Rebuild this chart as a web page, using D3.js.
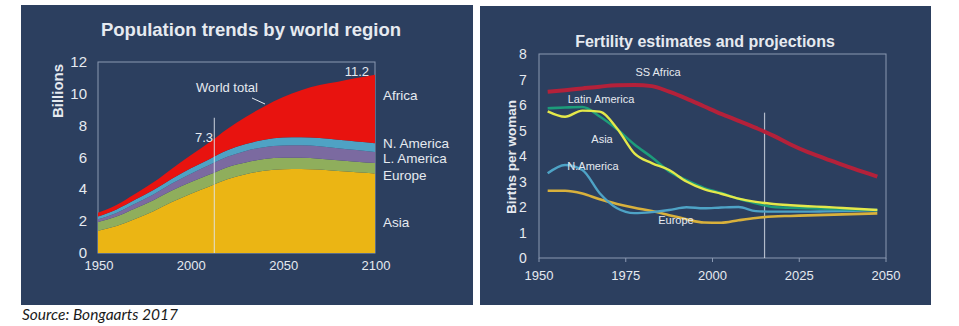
<!DOCTYPE html>
<html>
<head>
<meta charset="utf-8">
<script src="https://cdn.jsdelivr.net/npm/d3@7"></script>
<style>
  body { margin: 0; background: #fff; }
  svg text { font-family: "Liberation Sans", Arial, sans-serif; }
</style>
</head>
<body>
<div id="chart"></div>
<script>
// population by region, billions
const popYears = [1950, 1960, 1970, 1980, 1990, 2000, 2010, 2020, 2030, 2040, 2050, 2060, 2070, 2080, 2090, 2100];
const asia = [1.40, 1.70, 2.14, 2.63, 3.20, 3.71, 4.17, 4.64, 4.95, 5.17, 5.26, 5.28, 5.24, 5.15, 5.08, 5.00];
const europe = [0.55, 0.60, 0.66, 0.69, 0.72, 0.73, 0.74, 0.75, 0.74, 0.73, 0.72, 0.70, 0.68, 0.67, 0.66, 0.65];
const latinAmerica = [0.17, 0.22, 0.29, 0.36, 0.45, 0.53, 0.60, 0.65, 0.72, 0.75, 0.78, 0.79, 0.78, 0.76, 0.73, 0.70];
const northAmerica = [0.18, 0.22, 0.25, 0.28, 0.30, 0.34, 0.37, 0.41, 0.44, 0.46, 0.49, 0.51, 0.52, 0.53, 0.54, 0.55];
const africa = [0.23, 0.28, 0.37, 0.48, 0.63, 0.81, 1.04, 1.34, 1.70, 2.10, 2.53, 2.95, 3.33, 3.65, 3.98, 4.30];
const regionNames = ["Asia", "Europe", "L. America", "N. America", "Africa"];
const regionColors = ["#ebb514", "#8fae5c", "#7b6aa0", "#4fa2c4", "#e8130f"];
const popTicks = [0, 2, 4, 6, 8, 10, 12];
const popYearTicks = [1950, 2000, 2050, 2100];

// total fertility rate, births per woman
const tfrYears = [1952.5, 1957.5, 1962.5, 1967.5, 1972.5, 1977.5, 1982.5, 1987.5, 1992.5, 1997.5,
                  2002.5, 2007.5, 2012.5, 2017.5, 2022.5, 2027.5, 2032.5, 2037.5, 2042.5, 2047.5];
const tfrSSAfrica = [6.52, 6.58, 6.65, 6.72, 6.77, 6.78, 6.74, 6.52, 6.25, 5.95, 5.65, 5.38, 5.10, 4.80, 4.45, 4.15, 3.90, 3.65, 3.42, 3.19];
const tfrLatAm = [5.87, 5.90, 5.92, 5.55, 5.05, 4.45, 3.95, 3.40, 3.05, 2.75, 2.55, 2.32, 2.15, 2.00, 1.97, 1.95, 1.93, 1.91, 1.89, 1.87];
const tfrAsia = [5.75, 5.54, 5.78, 5.74, 5.08, 4.10, 3.72, 3.45, 3.00, 2.70, 2.52, 2.33, 2.20, 2.12, 2.07, 2.03, 2.00, 1.96, 1.92, 1.88];
const tfrNAm = [3.32, 3.65, 3.45, 2.54, 1.95, 1.76, 1.80, 1.88, 1.99, 1.95, 1.98, 2.00, 1.84, 1.82, 1.82, 1.82, 1.83, 1.84, 1.86, 1.88];
const tfrEurope = [2.64, 2.64, 2.53, 2.30, 2.12, 1.97, 1.84, 1.68, 1.52, 1.39, 1.38, 1.48, 1.57, 1.63, 1.65, 1.67, 1.69, 1.71, 1.73, 1.75];
const tfrTicks = [0, 1, 2, 3, 4, 5, 6, 7, 8];
const tfrYearTicks = [1950, 1975, 2000, 2025, 2050];

const BG = "#2c3f5f";
const INK = "#e6eaf0";
const FRAME = "#8a99b2";

const svg = d3.select("#chart").append("svg")
    .attr("width", 959)
    .attr("height", 326);

// ---------- left panel: stacked population ----------
svg.append("rect").attr("x", 21).attr("y", 5).attr("width", 452).attr("height", 300).attr("fill", BG);

const px = d3.scaleLinear().domain([1950, 2100]).range([98, 375]);
const py = d3.scaleLinear().domain([0, 12]).range([253, 62]);

svg.append("text")
    .attr("x", 251).attr("y", 36)
    .attr("text-anchor", "middle")
    .attr("font-size", 18.5).attr("font-weight", "bold")
    .attr("fill", INK)
    .text("Population trends by world region");

svg.append("rect")
    .attr("x", px(1950)).attr("y", py(12))
    .attr("width", px(2100) - px(1950)).attr("height", py(0) - py(12))
    .attr("fill", "none").attr("stroke", FRAME).attr("stroke-width", 1);

const popRows = popYears.map((yr, i) => ({
    year: yr,
    "Asia": asia[i],
    "Europe": europe[i],
    "L. America": latinAmerica[i],
    "N. America": northAmerica[i],
    "Africa": africa[i]
}));
const stacked = d3.stack().keys(regionNames)(popRows);

const area = d3.area()
    .x(d => px(d.data.year))
    .y0(d => py(d[0]))
    .y1(d => py(d[1]))
    .curve(d3.curveMonotoneX);

svg.append("g").selectAll("path")
    .data(stacked)
    .join("path")
        .attr("d", area)
        .attr("fill", (d, i) => regionColors[i]);

// y axis labels
svg.append("g").selectAll("text")
    .data(popTicks)
    .join("text")
        .attr("x", 87).attr("y", d => py(d) + 5)
        .attr("text-anchor", "end")
        .attr("font-size", 15)
        .attr("fill", INK)
        .text(d => d);

svg.append("text")
    .attr("transform", "translate(63,91) rotate(-90)")
    .attr("text-anchor", "middle")
    .attr("font-size", 15).attr("font-weight", "bold")
    .attr("fill", INK)
    .text("Billions");

svg.append("g").selectAll("text")
    .data(popYearTicks)
    .join("text")
        .attr("x", d => px(d) + 1).attr("y", 270)
        .attr("text-anchor", "middle")
        .attr("font-size", 13)
        .attr("fill", INK)
        .text(d => d);

// 2015 marker
svg.append("line")
    .attr("x1", px(2013)).attr("x2", px(2013))
    .attr("y1", py(8.5)).attr("y2", py(0))
    .attr("stroke", "#dfe5ee").attr("stroke-opacity", 0.75).attr("stroke-width", 1.2);

svg.append("text")
    .attr("x", 204).attr("y", 142)
    .attr("text-anchor", "middle").attr("font-size", 13).attr("fill", INK)
    .text("7.3");

svg.append("text")
    .attr("x", 369).attr("y", 76)
    .attr("text-anchor", "end").attr("font-size", 13).attr("fill", INK)
    .text("11.2");

svg.append("text")
    .attr("x", 227).attr("y", 92)
    .attr("text-anchor", "middle").attr("font-size", 13).attr("fill", INK)
    .text("World total");

svg.append("line")
    .attr("x1", 252).attr("y1", 98).attr("x2", 265).attr("y2", 104)
    .attr("stroke", INK).attr("stroke-width", 1);

// region names to the right of the stack
const regionLabelY = { "Africa": 100, "N. America": 148, "L. America": 163, "Europe": 180, "Asia": 227 };
svg.append("g").selectAll("text")
    .data(Object.keys(regionLabelY))
    .join("text")
        .attr("x", 383).attr("y", d => regionLabelY[d])
        .attr("font-size", 13.5)
        .attr("fill", INK)
        .text(d => d);

// ---------- right panel: fertility ----------
svg.append("rect").attr("x", 480).attr("y", 6).attr("width", 451).attr("height", 299).attr("fill", BG);

const fx = d3.scaleLinear().domain([1950, 2050]).range([539, 886]);
const fy = d3.scaleLinear().domain([0, 8]).range([258, 54]);

svg.append("text")
    .attr("x", 705).attr("y", 47)
    .attr("text-anchor", "middle")
    .attr("font-size", 16).attr("font-weight", "bold")
    .attr("fill", INK)
    .text("Fertility estimates and projections");

svg.append("rect")
    .attr("x", fx(1950)).attr("y", fy(8))
    .attr("width", fx(2050) - fx(1950)).attr("height", fy(0) - fy(8))
    .attr("fill", "none").attr("stroke", FRAME).attr("stroke-width", 1);

svg.append("g").selectAll("line")
    .data(tfrYearTicks)
    .join("line")
        .attr("x1", d => fx(d)).attr("x2", d => fx(d))
        .attr("y1", fy(0)).attr("y2", fy(0) + 4)
        .attr("stroke", FRAME);

svg.append("g").selectAll("text")
    .data(tfrTicks)
    .join("text")
        .attr("x", 523).attr("y", d => fy(d) + 5)
        .attr("text-anchor", "middle")
        .attr("font-size", 14)
        .attr("fill", INK)
        .text(d => d);

svg.append("g").selectAll("text")
    .data(tfrYearTicks)
    .join("text")
        .attr("x", d => fx(d)).attr("y", 280)
        .attr("text-anchor", "middle")
        .attr("font-size", 13)
        .attr("fill", INK)
        .text(d => d);

svg.append("text")
    .attr("transform", "translate(516,157) rotate(-90)")
    .attr("text-anchor", "middle")
    .attr("font-size", 13.5).attr("font-weight", "bold")
    .attr("fill", INK)
    .text("Births per woman");

svg.append("line")
    .attr("x1", fx(2015)).attr("x2", fx(2015))
    .attr("y1", fy(5.7)).attr("y2", fy(0))
    .attr("stroke", "#dfe5ee").attr("stroke-opacity", 0.75).attr("stroke-width", 1.2);

const tfrSeries = [
    { name: "Europe", values: tfrEurope, color: "#d9b13c", width: 2.6 },
    { name: "N.America", values: tfrNAm, color: "#4ea3c6", width: 2.4 },
    { name: "Latin America", values: tfrLatAm, color: "#1d9c7a", width: 2.6 },
    { name: "Asia", values: tfrAsia, color: "#e4e84a", width: 2.4 },
    { name: "SS Africa", values: tfrSSAfrica, color: "#b4213a", width: 4 }
];

const line = d3.line()
    .x((d, i) => fx(tfrYears[i]))
    .y(d => fy(d))
    .curve(d3.curveMonotoneX);

svg.append("g").selectAll("path")
    .data(tfrSeries)
    .join("path")
        .attr("d", d => line(d.values))
        .attr("fill", "none")
        .attr("stroke", d => d.color)
        .attr("stroke-width", d => d.width)
        .attr("stroke-linejoin", "round");

const tfrLabels = [
    { text: "SS Africa", x: 658, y: 76 },
    { text: "Latin America", x: 601, y: 103 },
    { text: "Asia", x: 602, y: 143 },
    { text: "N.America", x: 593, y: 170 },
    { text: "Europe", x: 676, y: 224 }
];
svg.append("g").selectAll("text")
    .data(tfrLabels)
    .join("text")
        .attr("x", d => d.x).attr("y", d => d.y)
        .attr("text-anchor", "middle")
        .attr("font-size", 11)
        .attr("fill", INK)
        .text(d => d.text);

// source line
svg.append("text")
    .attr("x", 22).attr("y", 320)
    .attr("font-size", 15.5).attr("font-style", "italic")
    .style("font-family", "Lato, 'Open Sans', sans-serif")
    .attr("fill", "#1a1a1a")
    .text("Source: Bongaarts 2017");
</script>
</body>
</html>
